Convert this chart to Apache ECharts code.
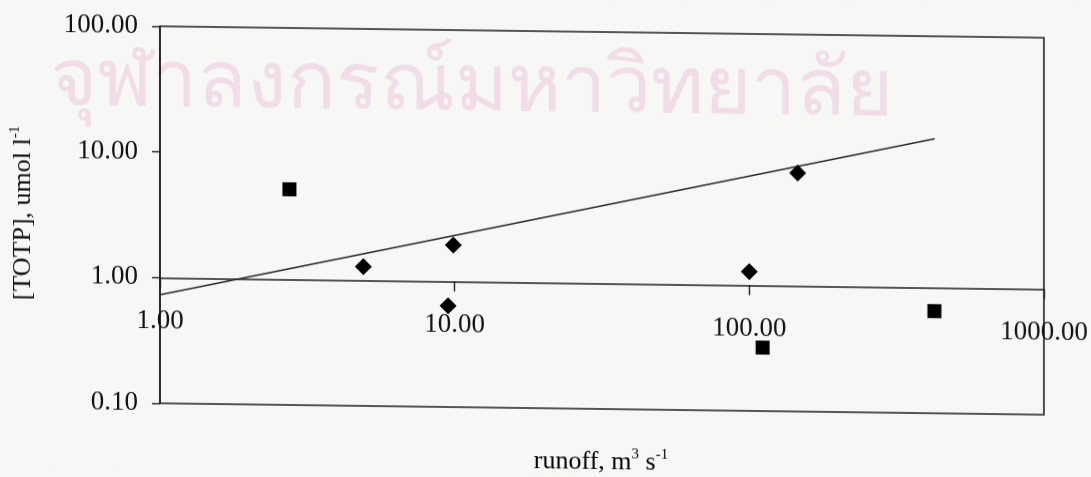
<!DOCTYPE html>
<html>
<head>
<meta charset="utf-8">
<script src="https://cdn.jsdelivr.net/npm/echarts@6/dist/echarts.min.js"></script>
<style>
  html, body { margin: 0; padding: 0; background: #f7f7f5; }
  #chart {
    width: 1091px; height: 477px;
    transform: skewY(0.74deg);
    transform-origin: 602px 221px;
  }
</style>
</head>
<body>
<div id="chart"></div>
<script>
// Runoff (m3 s-1) against total phosphorus concentration (umol l-1)
const diamondRunoff = [4.9, 9.9, 9.5, 100, 146];
const diamondTOTP   = [1.28, 1.95, 0.64, 1.28, 7.9];

const squareRunoff = [2.75, 111, 425];
const squareTOTP   = [5.2, 0.32, 0.65];

// fitted trend line end points
const trendRunoff = [1, 426];
const trendTOTP   = [0.73, 15.3];

const xRange = [1, 1000];
const yRange = [0.1, 100];
const yCross = 1;           // x axis crosses the y axis here

const watermark = 'จุฬาลงกรณ์มหาวิทยาลัย';

const pairs = (xs, ys) => xs.map((x, i) => [x, ys[i]]);

const GRID = { left: 160, right: 47, top: 32, bottom: 68 };
const gridH = 477 - GRID.top - GRID.bottom;
const xOffset = -gridH * Math.log10(yCross / yRange[0]) / Math.log10(yRange[1] / yRange[0]);

const serif = '"Liberation Serif", "Times New Roman", serif';
const ink = '#111';
const lineInk = '#222';
const rich = {
  n: { fontFamily: serif, fontSize: 26, color: ink, lineHeight: 30 },
  s: { fontFamily: serif, fontSize: 15, color: ink, lineHeight: 30, verticalAlign: 'top', padding: [0, 0, 12, 0] }
};

const chart = echarts.init(document.getElementById('chart'), null, { renderer: 'canvas' });
chart.setOption({
  backgroundColor: '#f7f7f5',
  animation: false,
  grid: Object.assign({ show: true, borderColor: lineInk, borderWidth: 1.6, backgroundColor: 'transparent' }, GRID),
  graphic: [
    {
      type: 'text', z: -10, x: 50, y: 48, silent: true,
      style: { text: watermark, font: '400 81px "Noto Sans", sans-serif', fill: '#f1dce8' }
    },
    {
      type: 'text', x: 601, y: 462, silent: true,
      style: {
        text: '{n|runoff, m}{s|3}{n| s}{s|-1}',
        rich: rich, align: 'center', verticalAlign: 'middle'
      }
    }
  ],
  xAxis: {
    type: 'log', logBase: 10, min: xRange[0], max: xRange[1],
    position: 'bottom', offset: xOffset,
    axisLine: { show: true, lineStyle: { color: lineInk, width: 1.6 } },
    axisTick: { show: true, length: 10, lineStyle: { color: lineInk, width: 1.4 } },
    splitLine: { show: false },
    axisLabel: {
      margin: 30, fontFamily: serif, fontSize: 27, color: ink,
      formatter: v => Number(v).toFixed(2)
    }
  },
  yAxis: {
    type: 'log', logBase: 10, min: yRange[0], max: yRange[1],
    axisLine: { show: true, lineStyle: { color: lineInk, width: 1.6 } },
    axisTick: { show: true, length: 8, lineStyle: { color: lineInk, width: 1.4 } },
    splitLine: { show: false },
    axisLabel: {
      margin: 22, fontFamily: serif, fontSize: 27, color: ink,
      formatter: v => Number(v).toFixed(2)
    },
    name: '{n|[TOTP], umol l}{s|-1}',
    nameLocation: 'middle', nameRotate: 90, nameGap: 122,
    nameTextStyle: { rich: rich }
  },
  series: [
    {
      type: 'line', data: pairs(trendRunoff, trendTOTP),
      showSymbol: false, symbol: 'none',
      lineStyle: { color: '#2a2a2a', width: 1.5 }, z: 2
    },
    {
      type: 'scatter', data: pairs(diamondRunoff, diamondTOTP),
      symbol: 'diamond', symbolSize: 17,
      itemStyle: { color: '#000', opacity: 1 }, z: 3
    },
    {
      type: 'scatter', data: pairs(squareRunoff, squareTOTP),
      symbol: 'rect', symbolSize: 14,
      itemStyle: { color: '#000', opacity: 1 }, z: 3
    }
  ]
});
</script>
</body>
</html>
